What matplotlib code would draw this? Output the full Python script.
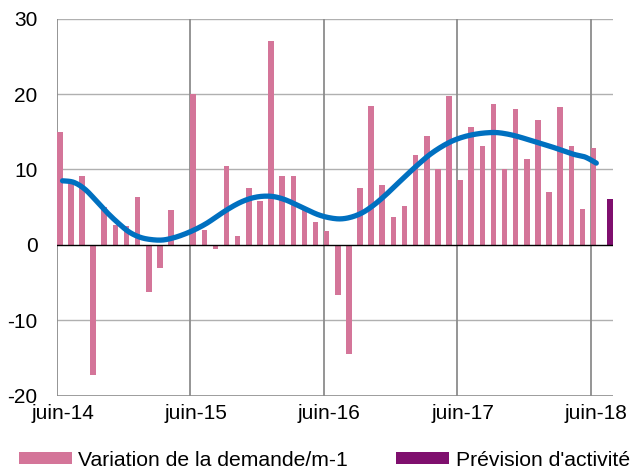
import matplotlib
matplotlib.use("Agg")
import matplotlib.pyplot as plt
import numpy as np

plt.rcParams['font.family'] = ['Liberation Sans', 'DejaVu Sans']

# Monthly data, June 2014 .. June 2018
demand = [15.0, 8.3, 9.2, -17.3, 5.0, 2.65, 2.5, 6.4, -6.3, -3.0, 4.65, 0.0,
          20.0, 2.0, -0.5, 10.4, 1.2, 7.6, 5.8, 27.1, 9.2, 9.1, 4.65, 3.1,
          1.8, -6.7, -14.5, 7.5, 18.45, 7.9, 3.75, 5.1, 11.9, 14.5, 10.1, 19.7,
          8.6, 15.6, 13.1, 18.7, 10.0, 18.05, 11.45, 16.6, 7.0, 18.3, 13.1, 4.8,
          12.8]
trend = [8.5, 8.3, 7.4, 5.9, 4.3, 2.9, 1.7, 1.0, 0.7, 0.65, 0.95, 1.45,
         2.1, 2.9, 3.9, 4.85, 5.65, 6.2, 6.45, 6.4, 6.0, 5.35, 4.65, 4.0,
         3.6, 3.45, 3.7, 4.3, 5.3, 6.55, 7.95, 9.35, 10.7, 11.95, 12.95, 13.75,
         14.3, 14.65, 14.85, 14.9, 14.7, 14.35, 13.9, 13.45, 13.0, 12.5, 12.0, 11.65,
         10.85]
forecast = [6.15]          # July 2018
tick_labels = ['juin-14', 'juin-15', 'juin-16', 'juin-17', 'juin-18']

pink = '#D47599'
purple = '#7F0F6E'
blue = '#0070C0'


def smooth_path(xs, ys, steps=12):
    """Catmull-Rom rendering of a smoothed line through the given points."""
    xs = np.asarray(xs, float)
    ys = np.asarray(ys, float)
    px = np.concatenate([[xs[0]], xs, [xs[-1]]])
    py = np.concatenate([[ys[0]], ys, [ys[-1]]])
    outx, outy = [], []
    t = np.linspace(0, 1, steps, endpoint=False)
    for i in range(1, len(px) - 2):
        for arr, out in ((px, outx), (py, outy)):
            p0, p1, p2, p3 = arr[i - 1], arr[i], arr[i + 1], arr[i + 2]
            out.extend(0.5 * ((2 * p1) + (-p0 + p2) * t
                              + (2 * p0 - 5 * p1 + 4 * p2 - p3) * t ** 2
                              + (-p0 + 3 * p1 - 3 * p2 + p3) * t ** 3))
    outx.append(xs[-1])
    outy.append(ys[-1])
    return np.array(outx), np.array(outy)


fig = plt.figure(figsize=(6.30, 4.71), dpi=100)
ax = fig.add_axes([57/630, 1-395.7/471, (613-57)/630, (395.7-18.7)/471])

n = len(demand)
x = np.arange(n)
bw = 0.5
ax.bar(x + 0.25, demand, width=bw, color=pink, zorder=3,
       label='Variation de la demande/m-1')
xf = np.arange(n, n + len(forecast))
ax.bar(xf + 0.75, forecast, width=bw, color=purple, zorder=3,
       label="Prévision d'activité")
sx, sy = smooth_path(x + 0.5, trend)
ax.plot(sx, sy, color=blue, lw=3.8, solid_capstyle='round',
        solid_joinstyle='round', zorder=4)

ax.set_xlim(0, 50)
ax.set_ylim(-20, 30)
ax.set_yticks([-20, -10, 0, 10, 20, 30])
ax.set_yticklabels(['-20', '-10', '0', '10', '20', '30'])
ticks = np.arange(0, n, 12)
ax.set_xticks(ticks + 0.5)
ax.set_xticklabels(tick_labels)
ax.tick_params(axis='both', length=0, labelsize=15, colors='black')
ax.tick_params(axis='y', pad=14)
ax.tick_params(axis='x', pad=6)

for y in [-10, 10, 20, 30]:
    ax.axhline(y, color='#b0b0b0', lw=1.0, zorder=1)
ax.axhline(-20, color='#8c8c8c', lw=1.2, zorder=1)
for t in ticks:
    ax.axvline(t, color='#8c8c8c', lw=1.3, zorder=1)
ax.axhline(0, color='black', lw=1.0, zorder=5)

for s in ax.spines.values():
    s.set_visible(False)

fig.legend(loc='center left', bbox_to_anchor=(19/630, 11/471), ncol=2,
           frameon=False, fontsize=15.2, handlelength=2.5, handleheight=0.55,
           handletextpad=0.3, columnspacing=2.3, borderpad=0, borderaxespad=0)

fig.savefig('out.png', dpi=100)
